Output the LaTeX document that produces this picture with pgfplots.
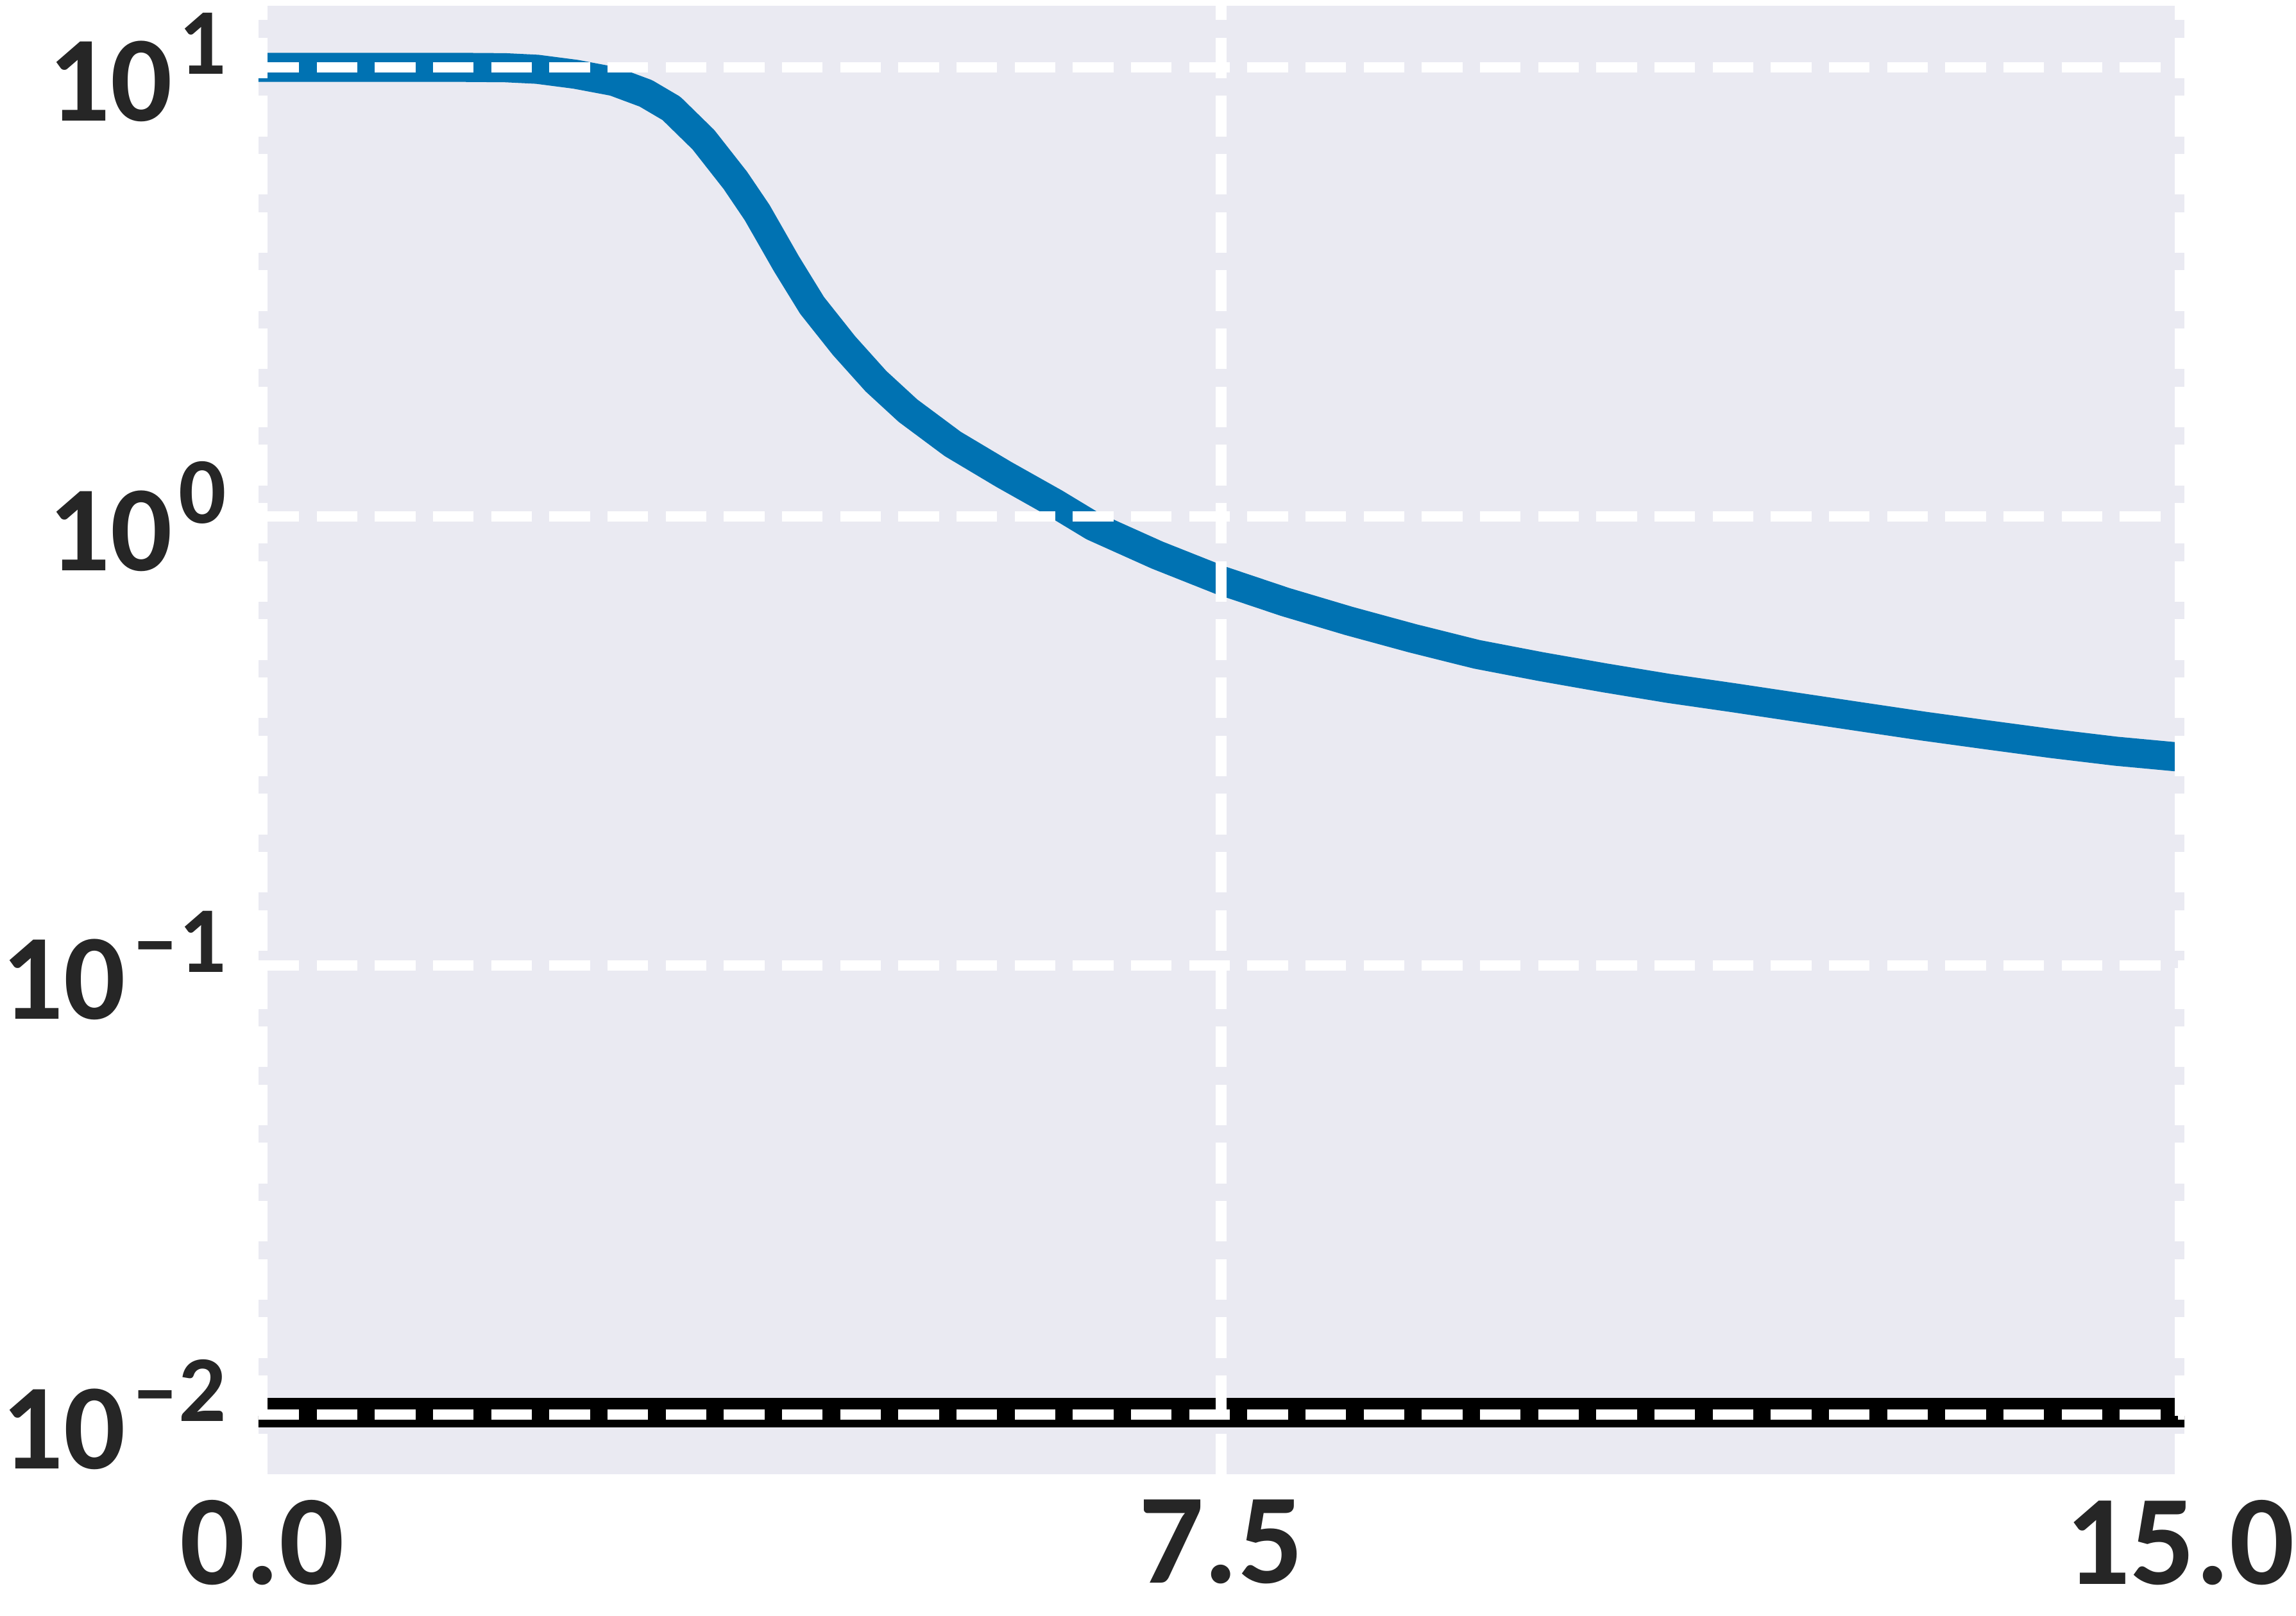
\documentclass[border=0pt]{standalone}
\usepackage{fontspec}
\setmainfont{Carlito}
\usepackage{pgfplots}
\pgfplotsset{compat=1.18}
\definecolor{bgc}{RGB}{234,234,242}
\definecolor{lblue}{RGB}{0,114,178}
\definecolor{txt}{RGB}{38,38,38}
\newcommand{\tl}[1]{10\kern1.5pt\raisebox{11pt}{\fontsize{22}{22}\selectfont #1}}
\begin{document}
\begin{tikzpicture}
\begin{axis}[
  scale only axis, width=450.3pt, height=343.35pt,
  ymode=log, log basis y=10,
  xmin=-0.0301, xmax=15.035, ymin=0.007364, ymax=13.71,
  axis background/.style={fill=bgc},
  axis on top,
  axis line style={draw=none},
  major tick length=0pt, minor tick length=0pt,
  tick style={draw=none},
  xtick={0,7.5,15}, xticklabels={0.0,7.5,15.0},
  ytick={0.01,0.1,1,10}, yticklabels={\tl{–2},\tl{–1},\tl{0},\tl{1}},
  yminorticks=false,
  grid=major,
  major grid style={white, line width=2.5pt, dash pattern=on 9.5pt off 4.1pt},
  tick label style={text=txt, inner sep=0pt},
  xticklabel style={font=\fontsize{30}{30}\selectfont\bfseries, anchor=north, yshift=-5.8pt},
  yticklabel style={font=\fontsize{28.5}{28.5}\selectfont\bfseries, anchor=east, xshift=-7.35pt},
]
\addplot[lblue, line width=6.8pt, line cap=rect, line join=round] coordinates {
(0,10.0) (0.5,10.0) (1.0,10.0) (1.5,10.0) (1.9,9.98) (2.15,9.9) (2.45,9.65)
(2.75,9.3) (3.0,8.75) (3.2,8.1) (3.45,6.9) (3.7,5.6) (3.87,4.75) (4.1,3.65)
(4.3,2.95) (4.55,2.4) (4.8,2.0) (5.05,1.72) (5.4,1.45) (5.8,1.24) (6.2,1.07)
(6.5,0.95) (7.0,0.82) (7.5,0.72) (8.0,0.645) (8.5,0.585) (9.0,0.535) (9.5,0.493)
(10.0,0.463) (10.5,0.437) (11.0,0.414) (11.5,0.395) (12.0,0.376) (12.5,0.358)
(13.0,0.341) (13.5,0.326) (14.0,0.312) (14.5,0.300) (15.0,0.291)
};
\addplot[black, line width=6.8pt, line cap=rect] coordinates {(0,0.0101) (15,0.0101)};
\end{axis}
\pgfresetboundingbox
\path[use as bounding box] ([xshift=-60.45pt,yshift=-33pt]current axis.south west) rectangle ([xshift=26.1pt,yshift=1.35pt]current axis.north east);
\end{tikzpicture}
\end{document}
